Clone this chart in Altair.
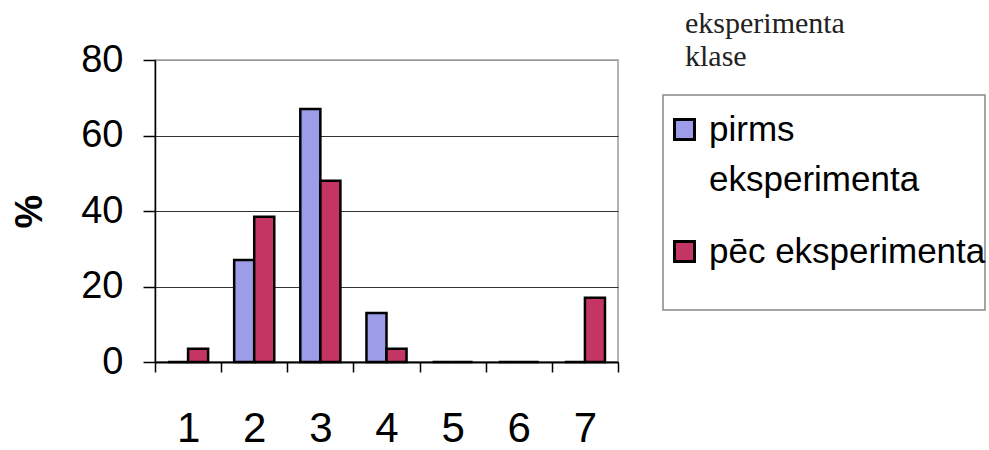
import altair as alt
import pandas as pd

# Class grades 1..7 and the share of pupils (%) before / after the experiment
categories = ["1", "2", "3", "4", "5", "6", "7"]
series = ["pirms eksperimenta", "pēc eksperimenta"]
pirms_values = [0, 27, 67, 13, 0, 0, 0]
pec_values = [3.5, 38.5, 48, 3.5, 0, 0, 17]
y_ticks = [0, 20, 40, 60, 80]
colors = ["#9C9CE8", "#C53563"]
legend_title = ["eksperimenta", "klase"]

df = pd.DataFrame({
    "grade": categories * 2,
    "series": [series[0]] * len(categories) + [series[1]] * len(categories),
    "value": pirms_values + pec_values,
})

SANS = "Liberation Sans"
SERIF = "Liberation Serif"

bars = alt.Chart(df).mark_bar(stroke="black", strokeWidth=2.5).encode(
    x=alt.X(
        "grade:N",
        sort=categories,
        scale=alt.Scale(paddingInner=0, paddingOuter=0),
        axis=alt.Axis(
            title=None, labelAngle=0, tickBand="extent",
            labelFont=SANS, labelFontSize=42, labelColor="black", labelPadding=36,
            tickSize=10, tickColor="black", tickWidth=1.5,
            domainColor="black", domainWidth=2, grid=False,
        ),
    ),
    # two adjacent bars of ~20 px centred in each grade band
    xOffset=alt.XOffset("series:N", sort=series,
                        scale=alt.Scale(domain=series, paddingInner=0, paddingOuter=0.65)),
    y=alt.Y(
        "value:Q",
        scale=alt.Scale(domain=[0, 80], nice=False),
        axis=alt.Axis(
            values=y_ticks, title="%",
            titleFont=SANS, titleFontSize=38, titleFontWeight="bold", titleColor="black",
            titleAngle=-90, titleX=-125, titleY=151, titleAlign="center", titleBaseline="middle",
            labelFont=SANS, labelFontSize=38, labelColor="black", labelPadding=20,
            tickSize=12, tickColor="black", tickWidth=1.5,
            grid=True,
            gridColor={"condition": {"test": "datum.value === 80", "value": "#999999"},
                       "value": "#333333"},
            gridWidth=1.2,
            domainColor="black", domainWidth=1.5,
        ),
    ),
    color=alt.Color(
        "series:N",
        sort=series,
        scale=alt.Scale(domain=series, range=colors),
        legend=alt.Legend(
            title=None, orient="none", legendX=512, legendY=52,
            symbolType="square", symbolSize=400,
            symbolStrokeColor="black", symbolStrokeWidth=3,
            labelFont=SANS, labelFontSize=35, labelColor="black",
            labelExpr="datum.label == 'pirms eksperimenta' ? ['pirms', 'eksperimenta'] : datum.label",
            labelOffset=7, labelLimit=400, rowPadding=36, labelBaseline="middle",
        ),
    ),
)

# Frame around the legend entries
legend_frame = alt.Chart(pd.DataFrame({"k": [0]})).mark_rect(
    fill=None, stroke="#888888", strokeWidth=1.5
).encode(
    x=alt.value(508), x2=alt.value(830), y=alt.value(35), y2=alt.value(250)
)

# Legend heading above the frame
heading = alt.Chart(pd.DataFrame({"k": [0]})).mark_text(
    text=legend_title, align="left", baseline="alphabetic",
    font=SERIF, fontSize=30, lineHeight=33, color="#222222"
).encode(x=alt.value(530), y=alt.value(-27))

chart = alt.layer(bars, legend_frame, heading).properties(
    width=463, height=302,
    autosize=alt.AutoSizeParams(type="none"),
    padding={"left": 155, "top": 60, "right": 371, "bottom": 88},
).configure(
    background="white",
    style={"guide-label": {"lineHeight": 50}},
).configure_view(stroke="#999999", strokeWidth=1.5)

chart.save("out.html", embed_options={"renderer": "svg", "actions": False})
